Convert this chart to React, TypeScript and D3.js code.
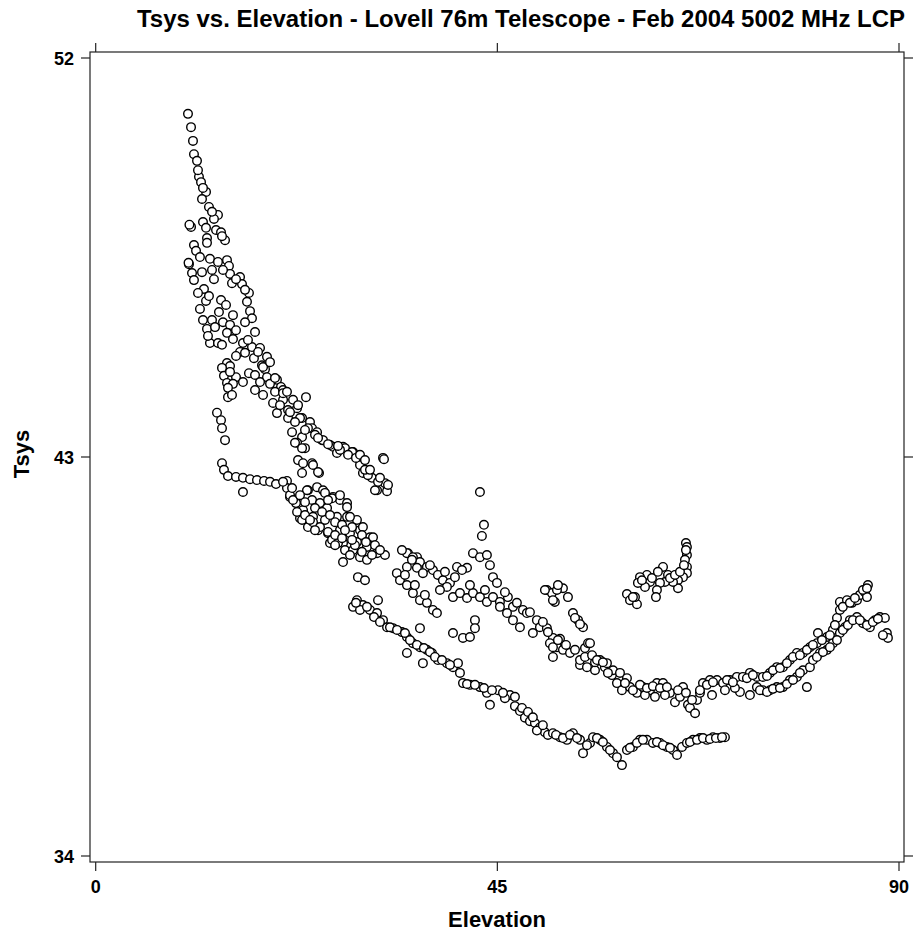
import React from "react";
import * as d3 from "d3";

const titleText = "Tsys vs. Elevation - Lovell 76m Telescope - Feb 2004 5002 MHz LCP";
const xLabel = "Elevation";
const yLabel = "Tsys";
const xTicks = [0, 45, 90];
const yTicks = [34, 43, 52];

// [elevation, tsys]
const steepScan: [number, number][] = [
  [10.34,50.74],[10.68,50.44],[10.90,50.13],[11.01,49.83],[11.35,49.68],[11.57,49.32],[11.80,49.20],[12.36,48.98],[11.91,48.82],[12.69,48.64],[13.70,48.46],[13.25,48.37],[12.02,48.30],[10.68,48.19],[10.50,48.24],[13.48,48.12],[14.04,48.07],[14.49,47.89],[12.47,47.94],[12.47,47.83],[11.01,47.78],[11.24,47.65],[12.80,47.47],[14.71,47.44],[14.93,47.31],[10.45,47.35],[10.40,47.38],[10.79,47.15],[11.91,47.17],[13.03,47.22],[11.01,46.99],[13.25,47.01],[15.05,47.13],[16.17,47.06],[15.27,46.92],[16.39,46.90],[12.13,46.79],[11.46,46.70],[17.17,46.70],[16.95,46.50],[12.36,46.52],[14.04,46.54],[11.68,46.34],[13.81,46.27],[17.29,46.29],[17.51,46.13],[12.02,46.09],[13.03,46.09],[14.26,46.04],[15.05,45.98],[15.72,45.86],[12.47,45.89],[13.37,45.93],[14.71,45.80],[17.85,45.82],
  [11.46,49.47],[12.02,49.07],[13.03,48.53],[12.36,48.17],[14.15,47.98],[11.68,47.51],[13.70,47.40],[14.26,47.22],[15.72,47.01],[16.73,46.77],[12.69,46.63],[14.60,46.43],[15.38,46.20],[16.73,46.04]
];

const upperBand: [number, number][] = [
  [12.80,45.57],[13.70,45.57],[16.50,45.57],[17.51,45.48],[16.17,45.37],[16.73,45.35],[17.73,45.23],[18.41,45.46],[19.19,45.26],[15.38,45.66],[14.71,45.12],[15.05,45.05],[14.15,45.01],[18.63,45.07],[18.97,44.98],[17.17,44.89],[14.37,44.83],[15.72,44.80],[17.85,44.85],[14.71,44.67],[15.38,44.65],[19.19,44.80],[20.31,44.74],[19.53,44.65],[20.76,44.58],[18.75,45.03],[14.82,44.56],[14.82,44.35],[15.27,44.40],[16.50,44.69],[17.85,44.51],[18.75,44.40],[20.09,44.47],[20.99,44.51],[19.87,44.22],[20.99,44.29],[23.56,44.35],[21.55,44.06],[22.56,44.10],[20.31,43.99],[21.55,43.88],[23.12,43.88],[24.01,43.79],[13.59,44.00],[14.04,43.83],[14.15,43.65],[14.49,43.38],[20.99,44.44],[21.77,44.01],[22.89,43.88],[24.24,43.65],
  [12.58,45.73],[14.15,45.53],[17.06,45.64],[18.19,45.37],[15.72,45.28],[19.53,45.14],[15.05,44.92],[18.41,44.69],[20.09,44.78],[21.43,44.47],[22.11,44.29],[22.67,44.17],[20.65,44.17],[22.33,43.79]
];

const middleBand: [number, number][] = [
  [22.00,43.56],[23.12,43.45],[24.80,43.56],[25.36,43.38],[22.56,43.32],[23.45,43.20],[26.59,43.23],[27.71,43.23],[28.83,43.11],[27.03,43.09],[29.61,42.82],[22.67,42.93],[23.23,42.86],[24.24,42.86],[23.12,42.64],[25.02,42.64],[29.94,42.64],[30.95,42.53],[32.41,42.41],[32.19,42.98],[32.30,42.95],[31.52,42.25],[32.64,42.23],[25.47,43.38],[27.93,43.20],[28.72,43.11],[30.50,42.59],[31.29,42.25],[22.33,43.32],[23.12,43.20],[24.35,42.82],[24.91,42.66],[26.25,43.27],[27.37,43.16],[28.27,43.05],[29.16,42.98],[30.17,42.71],[31.63,42.44],[24.57,43.50],[23.78,43.65],
  [23.45,43.61],[24.91,43.43],[26.03,43.29],[27.15,43.25],[29.61,43.05],[30.17,42.93],[30.73,42.71],[31.85,42.53],[32.75,42.37]
];

const lowerBand: [number, number][] = [
  [14.15,42.86],[14.37,42.71],[14.82,42.57],[15.72,42.55],[16.50,42.53],[17.29,42.50],[18.07,42.48],[18.86,42.46],[19.53,42.44],[20.20,42.39],[16.50,42.21],
  [21.43,42.46],[21.43,42.30],[21.77,42.10],[22.44,41.96],[23.78,42.25],[24.80,42.32],[25.47,42.25],[26.59,42.10],[27.37,42.03],[28.16,41.96],[24.24,42.03],[25.13,41.96],[25.92,41.85],[23.23,41.80],[24.35,41.65],[25.69,41.58],[27.03,41.65],[28.16,41.65],[29.27,41.58],[22.89,41.62],[23.78,41.42],[24.91,41.35],[26.03,41.28],[27.37,41.35],[28.49,41.28],[29.61,41.35],[30.73,41.19],[26.25,41.06],[27.71,41.06],[29.27,41.08],[30.39,40.97],[31.52,40.83],[32.41,40.79],[23.67,42.25],[25.69,42.19],[26.48,42.07],[28.16,41.87],[28.49,41.65],[29.94,41.42],[31.07,41.19],[20.99,42.44],[21.77,42.14],[22.56,41.76],[23.12,41.58],[24.35,41.53],[25.13,41.42],[26.03,41.31],[26.48,41.13],[27.15,41.06],[27.93,40.90],[28.83,40.90],[29.61,40.74],[30.39,40.68],[27.71,40.63],[29.38,40.29],[30.17,40.22],[22.11,42.03],[23.45,41.69],[24.01,41.58],[26.82,41.24],[27.60,41.17],[29.05,41.01],[29.83,40.86],[30.95,40.79],
  [22.00,42.30],[22.89,42.14],[23.45,41.98],[24.57,41.85],[25.36,41.76],[26.25,41.69],[26.82,41.53],[27.60,41.47],[28.72,41.42],[29.83,41.24],[30.28,41.08],[31.29,41.01],[31.85,40.90],[24.57,41.35],[27.93,41.35],[28.72,41.13],[26.82,41.01],[28.49,40.79],[27.37,42.14],[26.03,42.03]
];

const middleTrack: [number, number][] = [
  [34.99,40.83],[36.00,40.74],[34.87,40.83],[35.54,40.74],[36.33,40.63],[37.11,40.52],[37.78,40.45],[34.87,40.52],[35.99,40.50],[36.66,40.38],[38.34,40.34],[38.90,40.22],[39.69,40.16],[40.48,40.52],[41.60,40.50],[42.27,40.83],[43.05,40.74],[43.83,40.79],[44.17,40.56],[44.51,40.29],[44.96,40.16],[33.74,40.38],[34.09,40.22],[34.87,40.11],[35.54,39.93],[36.33,39.77],[37.11,39.71],[37.78,39.55],[38.23,39.48],[39.35,40.07],[40.03,39.84],[40.81,39.93],[41.60,39.82],[42.27,39.93],[43.05,39.84],[43.83,39.73],[44.51,39.84],[45.29,39.73],[46.18,39.84],[46.75,39.62],[47.87,39.55],[48.31,39.48],[49.43,39.32],[49.77,39.16],[50.55,39.14],[48.98,39.03],[47.53,39.16],[46.75,39.32],[46.08,39.48],[45.29,39.62],[42.49,39.32],[40.03,39.03],[41.15,38.92],[41.93,38.94],[42.49,39.14],[36.33,39.14],[51.23,38.92],[52.02,38.90],[50.89,38.80],[51.68,38.71],[52.35,38.65],[53.14,38.58],[54.26,38.31],[55.04,38.26],[55.94,38.19],[51.23,38.49],[54.82,38.69],[54.26,38.42],[51.23,38.71],
  [34.31,40.90],[35.43,40.68],[37.45,40.56],[39.13,40.41],[40.25,40.29],[41.04,40.45],[41.93,40.11],[43.61,40.00],[34.65,40.34],[35.76,40.11],[36.88,39.89],[38.57,40.00],[45.85,39.95],[47.19,39.71],[48.65,39.50],[50.10,39.28],[50.67,39.05],[51.79,38.87],[52.69,38.76],[53.70,38.65],[54.82,38.49],[55.94,38.37],[57.05,38.26],[57.84,38.08]
];

const bottomTrack: [number, number][] = [
  [29.27,39.77],[29.94,39.66],[30.73,39.55],[31.63,39.77],[31.52,39.48],[32.19,39.32],[32.64,39.16],[33.31,39.14],[34.31,39.05],[34.87,38.94],[35.54,38.80],[36.33,38.71],[37.11,38.65],[37.67,38.58],[38.34,38.42],[39.35,38.35],[40.03,38.26],[40.59,38.35],[40.81,38.13],[34.87,38.58],[36.66,38.35],[41.15,37.90],[41.93,37.86],[43.05,37.81],[43.83,37.68],[45.07,37.74],[46.41,37.63],[28.83,39.62],[29.61,39.55],[46.97,37.38],[47.53,37.27],[48.09,37.12],[48.65,37.04],[49.21,37.00],[49.77,36.90],[50.33,36.79],[44.17,37.41],[45.85,37.56],[50.67,36.73],[49.43,36.83],[51.23,36.77],[52.02,36.68],[52.80,36.62],[53.47,36.77],[54.26,36.62],[54.60,36.32],[55.38,36.55],[55.72,36.68],[56.50,36.62],[57.28,36.46],[57.96,36.32],[58.40,36.23],[58.96,36.05],[59.52,36.39],[60.19,36.46],[60.98,36.62],[61.76,36.62],[62.43,36.55],[63.22,36.55],[64.00,36.46],[64.68,36.39],[65.13,36.28],[65.69,36.46],[66.24,36.55],[66.92,36.62],[67.70,36.66],[68.48,36.62],[69.16,36.68],[69.94,36.66],[70.50,36.68],
  [29.16,39.71],[30.39,39.62],[31.18,39.39],[31.85,39.28],[32.97,39.16],[33.76,39.10],[34.65,39.03],[35.21,38.87],[35.99,38.76],[36.77,38.69],[37.45,38.60],[38.01,38.49],[38.79,38.42],[39.69,38.31],[41.60,37.88],[42.49,37.86],[43.50,37.79],[44.40,37.74],[45.63,37.68],[46.97,37.59],[47.76,37.34],[48.43,37.25],[48.98,37.13],[50.10,36.95],[51.57,36.73],[52.35,36.66],[53.14,36.73],[53.92,36.66],[55.04,36.50],[56.16,36.66],[56.83,36.57],[57.62,36.39],[59.86,36.44],[60.64,36.55],[61.31,36.62],[62.88,36.57],[63.56,36.50],[64.34,36.44],[66.58,36.57],[67.37,36.62],[68.04,36.66],[68.82,36.64],[69.49,36.66],[70.17,36.68]
];

const patchCluster: [number, number][] = [
  [50.55,40.00],[51.11,39.93],[51.44,39.73],[52.35,40.04],[52.91,39.84],[51.68,40.00],[51.23,39.77],[53.47,39.48],[54.04,39.32],[54.60,39.16],[55.16,38.80],[55.61,38.53],[55.38,38.80],
  [50.33,40.00],[51.79,40.11],[53.70,39.37],[54.26,39.23]
];

const rightCurve: [number, number][] = [
  [56.50,38.42],[57.28,38.35],[57.96,38.19],[58.74,38.13],[59.52,38.01],[56.16,38.42],[56.83,38.37],[57.39,38.13],[58.40,37.90],[58.96,37.74],[59.86,37.81],[60.64,37.68],[61.31,37.81],[62.10,37.74],[62.88,37.90],[63.56,37.90],[64.34,37.68],[64.90,37.47],[65.80,37.81],[66.36,37.41],[66.58,37.34],[67.15,37.22],[67.37,37.52],[68.04,37.90],[68.82,37.97],[69.61,37.97],[70.28,37.90],[71.06,37.97],[71.84,38.04],[72.51,38.04],[73.30,38.13],[74.08,38.04],[74.75,38.04],[75.54,38.13],[76.32,38.26],[76.99,38.26],[77.78,38.42],[78.56,38.58],[79.24,38.58],[80.02,38.71],[80.80,38.80],[80.92,39.03],[81.93,38.94],[82.60,39.10],[83.05,39.37],[83.38,39.55],[83.38,39.73],[84.17,39.77],[84.73,39.71],[85.29,39.77],[85.62,39.89],[86.18,39.95],[86.52,40.11],[86.41,39.84],
  [74.08,37.81],[74.75,37.74],[75.54,37.74],[76.32,37.81],[76.99,37.81],[77.78,37.97],[78.56,38.04],[79.24,38.19],[79.68,37.81],[80.02,38.26],[80.36,38.42],[81.14,38.58],[81.93,38.65],[82.60,38.80],[83.38,39.03],[83.94,39.16],[84.50,39.32],[85.29,39.39],[85.96,39.25],[86.74,39.16],[87.30,39.32],[87.86,39.39],[88.42,39.37],[88.64,39.03],[88.76,38.92],[88.20,38.98],
  [61.54,37.63],[62.66,37.59],[63.78,37.63],[65.46,37.59],[67.70,37.68],[69.05,37.63],[70.50,37.74],[72.18,37.70],[73.30,37.63],[71.62,37.79],
  [59.30,37.90],[60.19,37.74],[60.98,37.86],[61.76,37.79],[62.43,37.83],[63.22,37.79],[64.00,37.81],[65.24,37.74],[66.13,37.68],[66.81,37.52],[67.70,37.74],[68.48,37.86],[69.16,37.92],[70.73,37.97],[71.39,37.92],[72.96,38.01],[73.63,38.08],[75.21,38.06],[75.88,38.19],[76.66,38.24],[77.44,38.35],[78.12,38.49],[78.90,38.53],[79.68,38.65],[80.36,38.76],[81.37,38.87],[82.26,38.98],[82.82,39.21],[83.71,39.62],[84.50,39.71],[85.06,39.82],[85.96,40.00],[86.41,40.04],
  [74.42,37.74],[75.21,37.70],[75.88,37.77],[76.66,37.79],[77.44,37.88],[78.12,37.97],[78.90,38.13],[80.80,38.49],[81.48,38.60],[82.26,38.71],[83.05,38.87],[83.71,39.10],[84.27,39.21],[84.84,39.32],[85.62,39.32],[86.41,39.21],[87.07,39.28],[87.64,39.35]
];

const upperCluster: [number, number][] = [
  [66.13,41.06],[66.24,40.97],[66.24,40.79],[66.02,40.68],[66.24,40.52],[66.24,40.38],[65.80,40.29],[65.24,40.22],[65.24,40.04],[64.68,40.18],[64.12,40.34],[63.56,40.52],[63.78,40.18],[63.22,40.16],[62.88,40.00],[62.77,39.84],[62.10,40.18],[61.76,40.34],[60.98,40.29],[61.54,40.07],[60.75,40.16],[59.52,39.91],[59.86,39.77],[60.64,39.68],[60.42,39.84],
  [61.20,40.22],[62.32,40.27],[62.99,40.41],[64.34,40.27],[64.90,40.34],[65.46,40.41],[65.91,40.56],[66.13,40.90],[60.19,39.84]
];

const isolatedPoints: [number, number][] = [
  [43.05,42.21],[43.50,41.47],[43.27,41.22]
];

const allSeries = [steepScan, upperBand, middleBand, lowerBand, middleTrack, bottomTrack, patchCluster, rightCurve, upperCluster, isolatedPoints];

const W = 913;
const H = 936;
const FONT = "'Liberation Sans', Arial, Helvetica, sans-serif";

export default function App() {
  const x = d3.scaleLinear().domain([0, 90]).range([95.7, 899]);
  const y = d3.scaleLinear().domain([34, 52]).range([856, 58]);
  const fx0 = x.range()[0] - 5.7;
  const fx1 = x.range()[1] + 5;
  const fy0 = y.range()[1] - 6;
  const fy1 = y.range()[0] + 6;
  const tickLen = 9;
  const points = allSeries.flat();

  return (
    <svg
      width={W}
      height={H}
      style={{ position: "absolute", left: 0, top: 0, background: "#fff" }}
      fontFamily={FONT}
    >
      <rect x={0} y={0} width={W} height={H} fill="#fff" />
      <text x={905} y={27} textAnchor="end" fontSize={23} fontWeight="bold" fill="#000" textLength={768} lengthAdjust="spacingAndGlyphs">
        {titleText}
      </text>
      <g>
        {points.map((d, i) => (
          <circle key={i} cx={x(d[0])} cy={y(d[1])} r={4.3} fill="#fff" stroke="#000" strokeWidth={1.4} />
        ))}
      </g>
      <rect x={fx0} y={fy0} width={fx1 - fx0} height={fy1 - fy0} fill="none" stroke="#222" strokeWidth={1.2} />
      {xTicks.map((t) => (
        <g key={"x" + t}>
          <line x1={x(t)} x2={x(t)} y1={fy1} y2={fy1 + tickLen} stroke="#222" strokeWidth={1.2} />
          <line x1={x(t)} x2={x(t)} y1={fy0} y2={fy0 - tickLen} stroke="#222" strokeWidth={1.2} />
          <text x={x(t)} y={893} textAnchor="middle" fontSize={18} fontWeight="bold" fill="#000">{t}</text>
        </g>
      ))}
      {yTicks.map((t) => (
        <g key={"y" + t}>
          <line x1={fx0} x2={fx0 - tickLen} y1={y(t)} y2={y(t)} stroke="#222" strokeWidth={1.2} />
          <line x1={fx1} x2={fx1 + tickLen} y1={y(t)} y2={y(t)} stroke="#222" strokeWidth={1.2} />
          <text x={74} y={y(t) + 6.5} textAnchor="end" fontSize={18} fontWeight="bold" fill="#000">{t}</text>
        </g>
      ))}
      <text x={(fx0 + fx1) / 2} y={927} textAnchor="middle" fontSize={22} fontWeight="bold" fill="#000">{xLabel}</text>
      <text transform={`translate(29,454) rotate(-90)`} textAnchor="middle" fontSize={22} fontWeight="bold" fill="#000">{yLabel}</text>
    </svg>
  );
}
